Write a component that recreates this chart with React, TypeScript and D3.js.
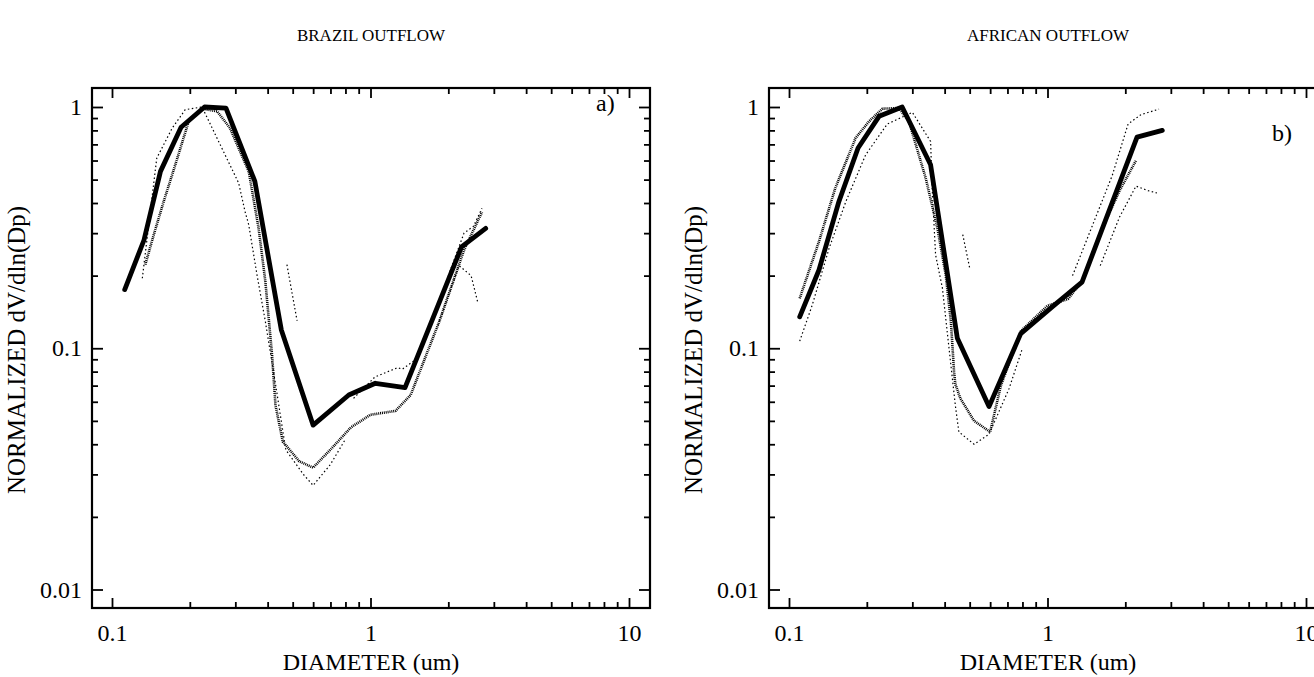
import React, { useEffect, useRef } from "react";
import * as d3 from "d3";

// ---------------- DATA ----------------
// Panel titles / labels
const panelTitles = ["BRAZIL OUTFLOW", "AFRICAN OUTFLOW"];
const panelTags = ["a)", "b)"];
const xAxisLabel = "DIAMETER (um)";
const yAxisLabel = "NORMALIZED dV/dln(Dp)";
const xMajorTicks = [0.1, 1, 10];
const yMajorTicks = [0.01, 0.1, 1];

// Brazil outflow – mean (bold) curve
const brazilMeanDiam = [0.112, 0.133, 0.154, 0.185, 0.228, 0.276, 0.357, 0.452, 0.6, 0.824, 1.044, 1.36, 2.25, 2.79];
const brazilMeanVol = [0.175, 0.281, 0.541, 0.824, 1.0, 0.99, 0.492, 0.119, 0.048, 0.064, 0.0716, 0.0687, 0.263, 0.314];

// Brazil outflow – individual samples (thin dotted)
const brazilS1Diam = [0.1345, 0.145, 0.1585, 0.1757, 0.198, 0.223, 0.255, 0.286, 0.338, 0.369, 0.392, 0.416, 0.429, 0.458, 0.53, 0.6, 0.7, 0.84, 1.0, 1.25, 1.43, 1.85, 2.3, 2.7];
const brazilS1Vol = [0.222, 0.295, 0.406, 0.576, 0.872, 0.984, 0.96, 0.818, 0.541, 0.315, 0.189, 0.094, 0.058, 0.041, 0.034, 0.032, 0.038, 0.047, 0.053, 0.055, 0.064, 0.13, 0.255, 0.367];
const brazilS2Diam = [0.131, 0.149, 0.171, 0.192, 0.223, 0.309, 0.327, 0.338, 0.364, 0.392, 0.43, 0.47, 0.55, 0.6, 0.7, 0.8];
const brazilS2Vol = [0.195, 0.614, 0.818, 0.975, 1.0, 0.484, 0.369, 0.325, 0.201, 0.129, 0.07, 0.038, 0.03, 0.027, 0.033, 0.042];
const brazilS3Diam = [0.475, 0.52];
const brazilS3Vol = [0.222, 0.13];
const brazilS4Diam = [0.86, 1.04, 1.27, 1.33, 1.5];
const brazilS4Vol = [0.062, 0.076, 0.083, 0.082, 0.09];
const brazilS5Diam = [2.0, 2.3, 2.5, 2.7];
const brazilS5Vol = [0.2, 0.3, 0.32, 0.38];
const brazilS6Diam = [1.8, 2.2, 2.45, 2.6];
const brazilS6Vol = [0.12, 0.22, 0.2, 0.155];

// African outflow – mean (bold) curve
const africaMeanDiam = [0.11, 0.1306, 0.156, 0.185, 0.223, 0.274, 0.353, 0.448, 0.594, 0.788, 1.04, 1.36, 2.22, 2.78];
const africaMeanVol = [0.135, 0.211, 0.406, 0.676, 0.915, 1.0, 0.576, 0.11, 0.0573, 0.115, 0.148, 0.188, 0.75, 0.8];

// African outflow – individual samples
const africaS1Diam = [0.11, 0.1306, 0.151, 0.181, 0.204, 0.23, 0.266, 0.291, 0.338, 0.375, 0.404, 0.423, 0.435, 0.44, 0.46, 0.52, 0.6, 0.66, 0.79, 1.0, 1.2, 1.36, 1.6, 1.9, 2.2];
const africaS1Vol = [0.161, 0.277, 0.461, 0.744, 0.872, 0.984, 0.99, 0.872, 0.507, 0.315, 0.201, 0.129, 0.08, 0.071, 0.062, 0.05, 0.045, 0.07, 0.118, 0.15, 0.16, 0.19, 0.3, 0.45, 0.6];
const africaS2Diam = [0.11, 0.123, 0.143, 0.166, 0.198, 0.24, 0.3, 0.353, 0.358, 0.369, 0.392, 0.44, 0.454, 0.52, 0.594, 0.71, 0.8];
const africaS2Vol = [0.107, 0.151, 0.26, 0.406, 0.634, 0.85, 0.95, 0.72, 0.46, 0.244, 0.178, 0.058, 0.045, 0.04, 0.044, 0.068, 0.1];
const africaS3Diam = [0.47, 0.5];
const africaS3Vol = [0.296, 0.215];
const africaS4Diam = [1.25, 1.47, 1.78, 2.05, 2.3, 2.7];
const africaS4Vol = [0.2, 0.31, 0.52, 0.85, 0.93, 0.98];
const africaS5Diam = [1.6, 1.9, 2.2, 2.45, 2.65];
const africaS5Vol = [0.22, 0.35, 0.47, 0.45, 0.44];

const zip = (a: number[], b: number[]) => a.map((v, i) => [v, b[i]] as [number, number]);

const panels = [
  {
    title: panelTitles[0],
    tag: panelTags[0],
    mean: zip(brazilMeanDiam, brazilMeanVol),
    hatched: [zip(brazilS1Diam, brazilS1Vol)],
    dotted: [
      zip(brazilS2Diam, brazilS2Vol),
      zip(brazilS3Diam, brazilS3Vol),
      zip(brazilS4Diam, brazilS4Vol),
      zip(brazilS5Diam, brazilS5Vol),
      zip(brazilS6Diam, brazilS6Vol),
    ],
  },
  {
    title: panelTitles[1],
    tag: panelTags[1],
    mean: zip(africaMeanDiam, africaMeanVol),
    hatched: [zip(africaS1Diam, africaS1Vol)],
    dotted: [
      zip(africaS2Diam, africaS2Vol),
      zip(africaS3Diam, africaS3Vol),
      zip(africaS4Diam, africaS4Vol),
      zip(africaS5Diam, africaS5Vol),
    ],
  },
];

// ---------------- LAYOUT ----------------
const W = 1314;
const H = 677;
const FONT = "'Liberation Serif', 'Times New Roman', serif";
const panelX0 = [112, 789]; // pixel of x = 0.1
const decadesPx = 258.5;
const frameTop = 88;
const frameBottom = 608;
const tagPos = [
  [596, 111],
  [1272, 141],
];

function minorTicks(lo: number, hi: number) {
  const out: number[] = [];
  for (let e = lo; e < hi; e++) {
    for (let m = 2; m <= 9; m++) out.push(m * Math.pow(10, e));
  }
  return out;
}

export default function App() {
  const ref = useRef<SVGSVGElement | null>(null);

  useEffect(() => {
    const svg = d3.select(ref.current);
    svg.selectAll("*").remove();
    svg.append("rect").attr("width", W).attr("height", H).attr("fill", "white");

    const fmt = d3.format("~g");

    panels.forEach((p, i) => {
      const x0 = panelX0[i];
      const x = d3.scaleLog().domain([0.1, 10]).range([x0, x0 + 2 * decadesPx]);
      const y = d3.scaleLog().domain([0.01, 1]).range([589.5, 107]);
      const fL = x0 - 20;
      const fR = x0 + 2 * decadesPx + 21;
      const g = svg.append("g");

      const styleAxis = (sel: any) => {
        sel.select(".domain").remove();
        sel.selectAll(".tick line").attr("stroke", "#000").attr("stroke-width", 1.8);
        sel.selectAll("text").attr("font-family", FONT).attr("font-size", 24).attr("fill", "#000");
        sel.attr("font-family", null).attr("font-size", null);
      };

      const xMinor = minorTicks(-1, 1);
      const yMinor = minorTicks(-2, 0);

      // bottom
      g.append("g").attr("transform", `translate(0,${frameBottom})`)
        .call(d3.axisBottom(x).tickValues(xMajorTicks).tickSize(-10).tickPadding(16).tickFormat((d: any) => fmt(d)))
        .call(styleAxis);
      g.append("g").attr("transform", `translate(0,${frameBottom})`)
        .call(d3.axisBottom(x).tickValues(xMinor).tickSize(-6).tickFormat(() => ""))
        .call(styleAxis);
      // top
      g.append("g").attr("transform", `translate(0,${frameTop})`)
        .call(d3.axisTop(x).tickValues(xMajorTicks).tickSize(-10).tickFormat(() => ""))
        .call(styleAxis);
      g.append("g").attr("transform", `translate(0,${frameTop})`)
        .call(d3.axisTop(x).tickValues(xMinor).tickSize(-6).tickFormat(() => ""))
        .call(styleAxis);
      // left
      g.append("g").attr("transform", `translate(${fL},0)`)
        .call(d3.axisLeft(y).tickValues(yMajorTicks).tickSize(-11).tickPadding(10).tickFormat((d: any) => fmt(d)))
        .call(styleAxis);
      g.append("g").attr("transform", `translate(${fL},0)`)
        .call(d3.axisLeft(y).tickValues(yMinor).tickSize(-6).tickFormat(() => ""))
        .call(styleAxis);
      // right
      g.append("g").attr("transform", `translate(${fR},0)`)
        .call(d3.axisRight(y).tickValues(yMajorTicks).tickSize(-11).tickFormat(() => ""))
        .call(styleAxis);
      g.append("g").attr("transform", `translate(${fR},0)`)
        .call(d3.axisRight(y).tickValues(yMinor).tickSize(-6).tickFormat(() => ""))
        .call(styleAxis);

      // frame
      g.append("rect")
        .attr("x", fL).attr("y", frameTop)
        .attr("width", fR - fL).attr("height", frameBottom - frameTop)
        .attr("fill", "none").attr("stroke", "#000").attr("stroke-width", 2.2);

      const line = d3.line<[number, number]>().x((d) => x(d[0])).y((d) => y(d[1]));

      p.hatched.forEach((s) => {
        g.append("path").attr("d", line(s)!).attr("fill", "none")
          .attr("stroke", "#000").attr("stroke-width", 2.6).attr("stroke-dasharray", "1 0.9");
      });
      p.dotted.forEach((s) => {
        g.append("path").attr("d", line(s)!).attr("fill", "none")
          .attr("stroke", "#000").attr("stroke-width", 1.2).attr("stroke-dasharray", "1.5 2.5");
      });
      g.append("path").attr("d", line(p.mean)!).attr("fill", "none")
        .attr("stroke", "#000").attr("stroke-width", 4.8)
        .attr("stroke-linejoin", "round").attr("stroke-linecap", "round");

      // titles / labels
      const cx = (fL + fR) / 2;
      g.append("text").attr("x", cx).attr("y", 41).attr("text-anchor", "middle")
        .attr("font-family", FONT).attr("font-size", 17).text(p.title);
      g.append("text").attr("x", cx).attr("y", 670).attr("text-anchor", "middle")
        .attr("font-family", FONT).attr("font-size", 24).text(xAxisLabel);
      g.append("text").attr("transform", `translate(${fL - 67},${(frameTop + frameBottom) / 2 + 2}) rotate(-90)`)
        .attr("text-anchor", "middle").attr("font-family", FONT).attr("font-size", 25).text(yAxisLabel);
      g.append("text").attr("x", tagPos[i][0]).attr("y", tagPos[i][1])
        .attr("font-family", FONT).attr("font-size", 24).text(p.tag);
    });
  }, []);

  return (
    <svg
      ref={ref}
      width={W}
      height={H}
      style={{ position: "absolute", left: 0, top: 0, display: "block" }}
    />
  );
}
